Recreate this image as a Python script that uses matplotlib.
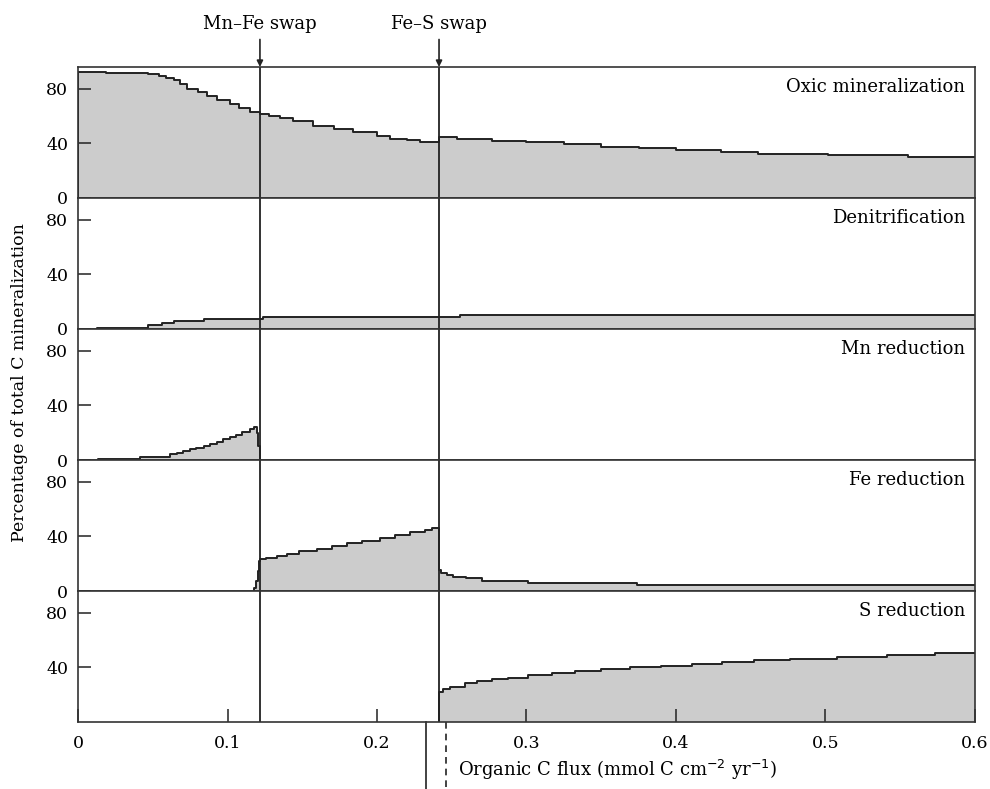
import numpy as np
from matplotlib import pyplot as plt
from matplotlib.transforms import blended_transform_factory

plt.rcParams['font.family'] = ['DejaVu Serif']

# organic C flux (mmol C cm-2 yr-1) at each step, and % of total C mineralization
oxic_x = [0, 0.019, 0.047, 0.054, 0.059, 0.064, 0.068, 0.073, 0.080, 0.086,
          0.093, 0.102, 0.108, 0.115, 0.122, 0.128, 0.135, 0.144, 0.157,
          0.171, 0.184, 0.200, 0.209, 0.220, 0.229, 0.2415, 0.2535, 0.277,
          0.300, 0.325, 0.350, 0.375, 0.400, 0.430, 0.455, 0.502, 0.555, 0.6]
oxic_y = [92.4, 91.6, 90.7, 89.5, 88.0, 86.3, 83.4, 80.2, 77.8, 74.7,
          71.8, 68.6, 65.7, 63.3, 61.6, 60.4, 58.9, 56.7, 53.1,
          50.7, 48.0, 45.1, 43.4, 42.2, 40.7, 44.6, 43.1, 42.0,
          40.7, 39.3, 37.6, 36.4, 35.0, 33.7, 32.5, 31.3, 30.0, 30.0]

denit_x = [0.013, 0.047, 0.056, 0.064, 0.084, 0.124, 0.2555, 0.6]
denit_y = [1.0, 3.0, 4.4, 6.0, 7.5, 8.7, 10.0, 10.0]

mn_x = [0.0134, 0.0415, 0.0615, 0.066, 0.070, 0.075, 0.079, 0.084, 0.088,
        0.093, 0.097, 0.102, 0.106, 0.110, 0.115, 0.118, 0.120, 0.1205, 0.1217]
mn_y = [1.0, 2.5, 4.2, 5.4, 6.7, 7.9, 9.1, 10.4, 11.6,
        13.3, 15.3, 17.0, 18.5, 20.5, 22.5, 24.4, 20.0, 10.0, 0.0]

fe_x = [0.1177, 0.119, 0.1202, 0.121, 0.122, 0.126, 0.133, 0.140, 0.148,
        0.160, 0.170, 0.180, 0.190, 0.202, 0.212, 0.222, 0.232, 0.237,
        0.2415, 0.243, 0.2466, 0.251, 0.2595, 0.270, 0.301, 0.374, 0.6]
fe_y = [2.0, 7.0, 14.3, 21.7, 23.5, 24.2, 25.7, 27.4, 29.0,
        31.0, 33.0, 35.0, 37.0, 39.0, 41.3, 43.5, 45.0, 46.5,
        15.6, 13.0, 11.9, 10.6, 9.4, 7.7, 6.2, 4.5, 4.5]

s_x = [0.2415, 0.244, 0.249, 0.259, 0.2667, 0.2767, 0.2876, 0.301, 0.317,
       0.3324, 0.350, 0.369, 0.390, 0.411, 0.431, 0.452, 0.476, 0.508,
       0.541, 0.573, 0.6]
s_y = [22.0, 24.2, 25.4, 28.4, 30.1, 31.4, 32.6, 34.6, 35.8,
       37.5, 38.8, 40.0, 41.2, 42.7, 44.0, 45.2, 46.4, 47.7,
       49.4, 50.6, 50.6]

panels = [
    ('Oxic mineralization', oxic_x, oxic_y),
    ('Denitrification', denit_x, denit_y),
    ('Mn reduction', mn_x, mn_y),
    ('Fe reduction', fe_x, fe_y),
    ('S reduction', s_x, s_y),
]

mn_fe_swap = 0.1217
fe_s_swap = 0.2415
below_solid = 0.2328
below_dashed = 0.2462

line_col = '#222222'
fill_col = '#cccccc'

fig, axes = plt.subplots(5, 1, figsize=(9.9, 7.89), dpi=100, sharex=True)
fig.subplots_adjust(left=0.0788, right=0.9848, bottom=0.0849, top=0.9151,
                    hspace=0)

for i, (ax, (name, xs, ys)) in enumerate(zip(axes, panels)):
    # start each curve from the zero line
    x = np.r_[xs[0], xs]
    y = np.r_[0, ys]
    ax.fill_between(x, y, 0, step='post', color=fill_col, lw=0)
    ax.plot(x, y, drawstyle='steps-post', color=line_col, lw=1.4)
    ax.set_xlim(0, 0.6)
    ax.set_ylim(0, 96)
    for sp in ax.spines.values():
        sp.set_linewidth(1.2)
        sp.set_color('#333333')
    if i < 4:
        ax.set_yticks([0, 40, 80])
        ax.tick_params(axis='x', bottom=False)
    else:
        ax.set_yticks([40, 80])
    ax.tick_params(axis='both', direction='in', length=9.5, width=1.1,
                   labelsize=12.5, color='#222222')
    ax.tick_params(axis='y', pad=7)
    ax.text(0.989, 0.845, name, transform=ax.transAxes, ha='right',
            va='center', fontsize=13)
    ax.axvline(mn_fe_swap, color=line_col, lw=1.3)
    ax.axvline(fe_s_swap, color=line_col, lw=1.3)

bottom = axes[-1]
bottom.set_xticks([0, 0.1, 0.2, 0.3, 0.4, 0.5, 0.6])
bottom.set_xticklabels(['0', '0.1', '0.2', '0.3', '0.4', '0.5', '0.6'])
bottom.tick_params(axis='x', pad=9)

trans = blended_transform_factory(bottom.transData, bottom.transAxes)
bottom.plot([below_solid, below_solid], [0, -0.52], transform=trans,
            color=line_col, lw=1.2, clip_on=False)
bottom.plot([below_dashed, below_dashed], [0, -0.52], transform=trans,
            color=line_col, lw=1.2, ls=(0, (4, 3)), clip_on=False)

fig.text(617 / 990, 1 - 770 / 789,
         'Organic C flux (mmol C cm$^{-2}$ yr$^{-1}$)',
         ha='center', va='center', fontsize=13)
fig.text(20 / 990, 1 - 383 / 789, 'Percentage of total C mineralization',
         rotation=90, ha='center', va='center', fontsize=12.5)

top = axes[0]
top_trans = blended_transform_factory(top.transData, top.transAxes)
for xv, label in [(mn_fe_swap, 'Mn–Fe swap'), (fe_s_swap, 'Fe–S swap')]:
    top.annotate('', xy=(xv, 1.0), xycoords=('data', 'axes fraction'),
                 xytext=(xv, 1.21), textcoords=('data', 'axes fraction'),
                 arrowprops=dict(arrowstyle='-|>', color=line_col, lw=1.2,
                                 mutation_scale=9, shrinkA=0, shrinkB=0))
    top.text(xv, 1.33, label, transform=top_trans,
             ha='center', va='center', fontsize=13)

plt.savefig('out.png', dpi=100)
